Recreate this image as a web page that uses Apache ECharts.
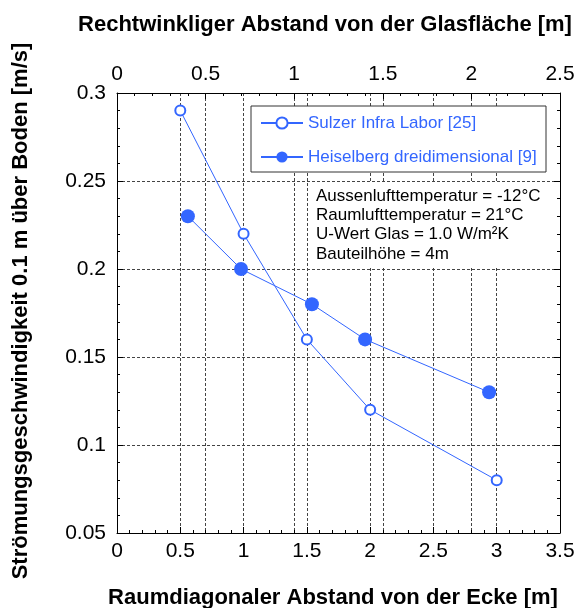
<!DOCTYPE html>
<html>
<head>
<meta charset="utf-8">
<script src="https://cdn.jsdelivr.net/npm/echarts@6/dist/echarts.min.js"></script>
<style>
  html, body { margin: 0; padding: 0; background: #fff; }
  #chart { width: 579px; height: 608px; }
</style>
</head>
<body>
<div id="chart"></div>
<script>
// Floor-level air speed next to a glazed facade, two data sources.
const sulzerName = 'Sulzer Infra Labor [25]';
const sulzerDiag = [0.5, 1.0, 1.5, 2.0, 3.0];          // diagonal distance from corner [m]
const sulzerSpeed = [0.29, 0.22, 0.16, 0.12, 0.08];    // [m/s]

const heiselbergName = 'Heiselberg dreidimensional [9]';
const heiselbergPerp = [0.4, 0.7, 1.1, 1.4, 2.1];      // perpendicular distance from glass [m]
const heiselbergSpeed = [0.23, 0.20, 0.18, 0.16, 0.13];// [m/s]

const bottomAxisRange = [0, 3.5];
const topAxisRange = [0, 2.5];
const speedRange = [0.05, 0.3];

const notes = [
  'Aussenlufttemperatur = -12°C',
  'Raumlufttemperatur = 21°C',
  'U-Wert Glas = 1.0 W/m²K',
  'Bauteilhöhe = 4m'
];

const titleTop = 'Rechtwinkliger Abstand von der Glasfläche [m]';
const titleBottom = 'Raumdiagonaler Abstand von der Ecke [m]';
const titleLeft = 'Strömungsgeschwindigkeit 0.1 m über Boden [m/s]';

const BLUE = '#3366ff';
const FONT = '"Liberation Sans", Arial, sans-serif';
const gridDash = { color: '#444', width: 1, type: [3, 2] };
const tickFont = { color: '#000', fontSize: 21, fontFamily: FONT };

function valueAxis(extra) {
  return Object.assign({
    type: 'value',
    axisLine: { show: true, onZero: false, lineStyle: { color: '#000', width: 1 } },
    axisTick: { show: true, inside: true, length: 6, lineStyle: { color: '#000' } },
    minorTick: { show: true, splitNumber: 5, length: 3, lineStyle: { color: '#000' } },
    splitLine: { show: true, lineStyle: gridDash },
    axisLabel: Object.assign({}, tickFont)
  }, extra);
}

const chart = echarts.init(document.getElementById('chart'), null, { renderer: 'canvas' });

chart.setOption({
  backgroundColor: '#fff',
  animation: false,
  grid: { left: 117, right: 19, top: 93, bottom: 75 },
  xAxis: [
    valueAxis({ position: 'bottom', min: bottomAxisRange[0], max: bottomAxisRange[1], interval: 0.5,
      axisLabel: Object.assign({ margin: 8 }, tickFont) }),
    valueAxis({ position: 'top', min: topAxisRange[0], max: topAxisRange[1], interval: 0.5,
      axisLabel: Object.assign({ margin: 8 }, tickFont) })
  ],
  yAxis: [
    valueAxis({ position: 'left', min: speedRange[0], max: speedRange[1], interval: 0.05,
      axisLabel: Object.assign({ margin: 11 }, tickFont) }),
    valueAxis({ position: 'right', min: speedRange[0], max: speedRange[1], interval: 0.05,
      axisLabel: { show: false }, splitLine: { show: false } })
  ],
  legend: {
    orient: 'vertical',
    left: 251, top: 106,
    padding: [7, 9, 5, 9],
    itemWidth: 42, itemHeight: 14, itemGap: 14,
    textStyle: { color: BLUE, fontSize: 17, fontFamily: FONT, lineHeight: 20 },
    data: [sulzerName, heiselbergName]
  },
  graphic: [
    // legend frame
    { type: 'rect', z: 1, shape: { x: 251, y: 106, width: 295, height: 66 },
      style: { fill: '#fff', stroke: '#333', lineWidth: 1 } },
    // white panel behind the notes
    { type: 'rect', z: 1, shape: { x: 310, y: 183, width: 243, height: 85 },
      style: { fill: '#fff' } },
    ...notes.map((t, i) => ({
      type: 'text', z: 5, x: 316, y: 196 + i * 19.4,
      style: { text: t, font: '17px ' + FONT, fill: '#000', textVerticalAlign: 'middle' }
    })),
    { type: 'text', z: 5, x: 325, y: 25,
      style: { text: titleTop, font: 'bold 22px ' + FONT, fill: '#000',
        textAlign: 'center', textVerticalAlign: 'middle' } },
    { type: 'text', z: 5, x: 333, y: 598,
      style: { text: titleBottom, font: 'bold 22px ' + FONT, fill: '#000',
        textAlign: 'center', textVerticalAlign: 'middle' } },
    { type: 'text', z: 5, x: 21, y: 311, rotation: Math.PI / 2,
      style: { text: titleLeft, font: 'bold 22px ' + FONT, fill: '#000',
        textAlign: 'center', textVerticalAlign: 'middle' } }
  ],
  series: [
    {
      name: sulzerName, type: 'line', xAxisIndex: 0, yAxisIndex: 0, z: 3,
      data: sulzerDiag.map((x, i) => [x, sulzerSpeed[i]]),
      symbol: 'emptyCircle', symbolSize: 10,
      lineStyle: { color: BLUE, width: 1 },
      itemStyle: { color: BLUE, borderColor: BLUE, borderWidth: 1 }
    },
    {
      name: heiselbergName, type: 'line', xAxisIndex: 1, yAxisIndex: 0, z: 3,
      data: heiselbergPerp.map((x, i) => [x, heiselbergSpeed[i]]),
      symbol: 'circle', symbolSize: 14,
      lineStyle: { color: BLUE, width: 1 },
      itemStyle: { color: BLUE }
    }
  ]
});
</script>
</body>
</html>
